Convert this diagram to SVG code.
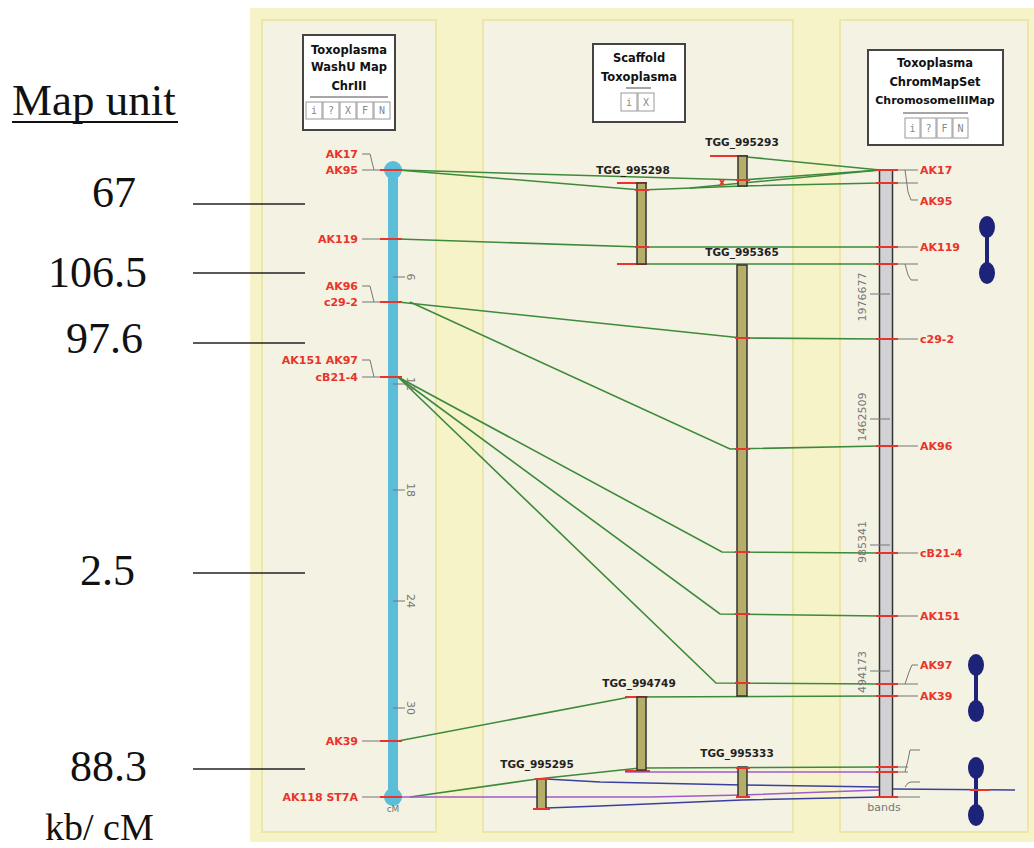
<svg xmlns="http://www.w3.org/2000/svg" width="1034" height="848" viewBox="0 0 1034 848">
<style>
.mu{font-family:"Liberation Serif",serif;font-size:44px;fill:#111}
.hd{font-family:"DejaVu Sans",sans-serif;font-weight:bold;font-size:11.5px;fill:#111;text-anchor:middle}
.rl{font-family:"DejaVu Sans",sans-serif;font-weight:bold;font-size:11px;fill:#e8342c}
.ll{font-family:"DejaVu Sans",sans-serif;font-weight:bold;font-size:11px;fill:#e8342c;text-anchor:end}
.ctg{font-family:"DejaVu Sans",sans-serif;font-weight:bold;font-size:10.5px;fill:#222;text-anchor:middle}
.gn{font-family:"DejaVu Sans",sans-serif;font-size:11px;fill:#777;text-anchor:middle}
.g{stroke:#3d8a3a;stroke-width:1.6;fill:none}
.pu{stroke:#a05cc8;stroke-width:1.6;fill:none}
.bl{stroke:#3b3fa0;stroke-width:1.6;fill:none}
.rd{stroke:#e8342c;stroke-width:2;fill:none}
.ld{stroke:#777;stroke-width:1;fill:none}
.bar{fill:#b4ae68;stroke:#333;stroke-width:1.5}
.btn{fill:#fff;stroke:#999;stroke-width:1}
.bt{font-family:"DejaVu Sans Mono",monospace;font-size:10px;fill:#888;text-anchor:middle}
.col{fill:#f4f2e2;stroke:#ece7a8;stroke-width:2}
.box{fill:#fff;stroke:#444;stroke-width:2}
.mk{stroke:#222;stroke-width:1.3}
.db{fill:#1c2378}
</style>
<rect x="0" y="0" width="1034" height="848" fill="#fff"/>
<rect x="250" y="8" width="784" height="834" fill="#f7f3c9"/>
<g id="columns">
<rect class="col" x="262" y="20" width="174" height="812"/>
<rect class="col" x="483" y="20" width="310" height="812"/>
<rect class="col" x="840" y="20" width="188" height="812"/>
</g>
<g id="mapunit">
<text class="mu" x="12" y="115" style="font-size:45px">Map unit</text>
<line x1="12" y1="122" x2="178" y2="122" stroke="#111" stroke-width="2"/>
<text class="mu" x="92" y="207">67</text>
<text class="mu" x="48" y="287">106.5</text>
<text class="mu" x="66" y="353">97.6</text>
<text class="mu" x="80" y="585">2.5</text>
<text class="mu" x="70" y="781">88.3</text>
<text class="mu" x="45" y="840" style="font-size:38px">kb/ cM</text>
<g class="mk">
<line x1="193" y1="204" x2="305" y2="204"/>
<line x1="193" y1="273" x2="305" y2="273"/>
<line x1="193" y1="343" x2="305" y2="343"/>
<line x1="193" y1="573" x2="305" y2="573"/>
<line x1="193" y1="769" x2="305" y2="769"/>
</g>
</g>
<g id="header-left">
<rect class="box" x="303" y="35" width="92" height="95"/>
<text class="hd" x="349" y="54">Toxoplasma</text>
<text class="hd" x="349" y="71">WashU Map</text>
<text class="hd" x="349" y="90">ChrIII</text>
<line x1="310" y1="97" x2="388" y2="97" stroke="#888" stroke-width="1.5"/>
<rect class="btn" x="306" y="102" width="16" height="17"/><text class="bt" x="314" y="114">i</text>
<rect class="btn" x="323" y="102" width="16" height="17"/><text class="bt" x="331" y="114">?</text>
<rect class="btn" x="340" y="102" width="16" height="17"/><text class="bt" x="348" y="114">X</text>
<rect class="btn" x="357" y="102" width="16" height="17"/><text class="bt" x="365" y="114">F</text>
<rect class="btn" x="374" y="102" width="16" height="17"/><text class="bt" x="382" y="114">N</text>
</g>
<g id="header-mid">
<rect class="box" x="593" y="44" width="92" height="78"/>
<text class="hd" x="639" y="62">Scaffold</text>
<text class="hd" x="639" y="81">Toxoplasma</text>
<line x1="626" y1="88" x2="651" y2="88" stroke="#888" stroke-width="1.5"/>
<rect class="btn" x="621" y="93" width="16" height="18"/><text class="bt" x="629" y="106">i</text>
<rect class="btn" x="638" y="93" width="16" height="18"/><text class="bt" x="646" y="106">X</text>
</g>
<g id="header-right">
<rect class="box" x="868" y="50" width="135" height="95"/>
<text class="hd" x="935" y="67">Toxoplasma</text>
<text class="hd" x="935" y="86">ChromMapSet</text>
<text class="hd" x="935" y="104" style="font-size:11px">ChromosomeIIIMap</text>
<line x1="903" y1="113" x2="968" y2="113" stroke="#888" stroke-width="1.5"/>
<rect class="btn" x="905" y="118" width="15" height="20"/><text class="bt" x="912.5" y="132">i</text>
<rect class="btn" x="921" y="118" width="15" height="20"/><text class="bt" x="928.5" y="132">?</text>
<rect class="btn" x="937" y="118" width="15" height="20"/><text class="bt" x="944.5" y="132">F</text>
<rect class="btn" x="953" y="118" width="15" height="20"/><text class="bt" x="960.5" y="132">N</text>
</g>
<g id="connectors">
<polyline class="g" points="398,170 742,180 880,170"/>
<polyline class="g" points="398,170 641,190 742,186 880,183"/>
<polyline class="g" points="747,157 880,170"/>
<polyline class="g" points="690,188 880,170"/>
<polyline class="g" points="398,239 641,247 880,247"/>
<polyline class="g" points="646,264 880,264"/>
<polyline class="g" points="398,302 742,338 880,339"/>
<polyline class="g" points="410,302 730,449 880,446"/>
<polyline class="g" points="398,377 722,552 880,553"/>
<polyline class="g" points="398,377 720,614 880,616"/>
<polyline class="g" points="398,377 716,683 880,684"/>
<polyline class="g" points="398,741 630,697 880,696"/>
<polyline class="g" points="410,797 537,779 640,768 880,767"/>
<polyline class="pu" points="625,772 880,772"/>
<polyline class="pu" points="393,797 650,797 742,795 880,790"/>
<polyline class="bl" points="546,779 600,782 742,785 880,787"/>
<polyline class="bl" points="546,808 600,806 742,800 880,797"/>
<polyline class="bl" points="893,789 1015,790"/>
<line class="rd" x1="972" y1="790" x2="990" y2="790"/>
<path class="rd" d="M720,180 l4,5 M724,180 l-4,5" stroke-width="1.2"/>
</g>
<g id="chrom-left">
<rect x="388" y="170" width="10" height="627" fill="#5bbdd8"/>
<circle cx="393" cy="170" r="9" fill="#5bbdd8"/>
<circle cx="393" cy="797" r="9" fill="#5bbdd8"/>
<g class="ld">
<line x1="393" y1="277" x2="405" y2="277"/>
<line x1="393" y1="384" x2="405" y2="384"/>
<line x1="393" y1="490" x2="405" y2="490"/>
<line x1="393" y1="601" x2="405" y2="601"/>
<line x1="393" y1="708" x2="405" y2="708"/>
<polyline points="362,154 370,154 374,170"/>
<line x1="362" y1="170" x2="382" y2="170"/>
<line x1="362" y1="239" x2="382" y2="239"/>
<polyline points="362,286 370,286 374,302"/>
<line x1="362" y1="302" x2="382" y2="302"/>
<polyline points="362,360 370,360 374,377"/>
<line x1="362" y1="377" x2="382" y2="377"/>
<line x1="362" y1="741" x2="382" y2="741"/>
<line x1="362" y1="797" x2="382" y2="797"/>
</g>
<g class="rd" stroke-width="1.5">
<line x1="380" y1="170" x2="402" y2="170"/>
<line x1="380" y1="239" x2="402" y2="239"/>
<line x1="380" y1="302" x2="402" y2="302"/>
<line x1="380" y1="377" x2="402" y2="377"/>
<line x1="380" y1="741" x2="402" y2="741"/>
<line x1="380" y1="797" x2="402" y2="797"/>
</g>
<text class="gn" transform="translate(411,277) rotate(90)" dy="4">6</text>
<text class="gn" transform="translate(411,384) rotate(90)" dy="4">12</text>
<text class="gn" transform="translate(411,490) rotate(90)" dy="4">18</text>
<text class="gn" transform="translate(411,601) rotate(90)" dy="4">24</text>
<text class="gn" transform="translate(411,708) rotate(90)" dy="4">30</text>
<text class="gn" x="393" y="812" style="font-size:9px">cM</text>
</g>
<g id="labels-left">
<text class="ll" x="358" y="158">AK17</text>
<text class="ll" x="358" y="174">AK95</text>
<text class="ll" x="358" y="243">AK119</text>
<text class="ll" x="358" y="290">AK96</text>
<text class="ll" x="358" y="306">c29-2</text>
<text class="ll" x="358" y="364">AK151 AK97</text>
<text class="ll" x="358" y="381">cB21-4</text>
<text class="ll" x="358" y="745">AK39</text>
<text class="ll" x="358" y="801">AK118 ST7A</text>
</g>
<g id="contig-995293">
<line class="rd" x1="710" y1="156" x2="748" y2="156"/>
<rect class="bar" x="738" y="156" width="9" height="30"/>
<line class="rd" x1="736" y1="180" x2="750" y2="180"/>
<text class="ctg" x="742" y="146">TGG_995293</text>
</g>
<g id="contig-995298">
<line class="rd" x1="617" y1="183" x2="647" y2="183"/>
<line class="rd" x1="617" y1="264" x2="647" y2="264"/>
<rect class="bar" x="637" y="183" width="9" height="81"/>
<line class="rd" x1="635" y1="190" x2="649" y2="190"/>
<line class="rd" x1="635" y1="247" x2="649" y2="247"/>
<text class="ctg" x="633" y="174">TGG_995298</text>
</g>
<g id="contig-995365">
<rect class="bar" x="737" y="265" width="10" height="431"/>
<g class="rd" stroke-width="1.5">
<line x1="735" y1="338" x2="750" y2="338"/>
<line x1="735" y1="449" x2="750" y2="449"/>
<line x1="735" y1="552" x2="750" y2="552"/>
<line x1="735" y1="614" x2="750" y2="614"/>
<line x1="735" y1="683" x2="750" y2="683"/>
</g>
<text class="ctg" x="742" y="256">TGG_995365</text>
</g>
<g id="contig-994749">
<line class="rd" x1="625" y1="697" x2="648" y2="697"/>
<line class="rd" x1="625" y1="771" x2="650" y2="771"/>
<rect class="bar" x="637" y="697" width="9" height="73"/>
<text class="ctg" x="639" y="687">TGG_994749</text>
</g>
<g id="contig-995333">
<rect class="bar" x="738" y="767" width="9" height="30"/>
<line class="rd" x1="736" y1="768" x2="750" y2="768"/>
<line class="rd" x1="736" y1="797" x2="750" y2="797"/>
<text class="ctg" x="737" y="757">TGG_995333</text>
</g>
<g id="contig-995295">
<rect class="bar" x="537" y="779" width="9" height="30"/>
<line class="rd" x1="535" y1="779" x2="549" y2="779"/>
<line class="rd" x1="533" y1="809" x2="550" y2="809"/>
<text class="ctg" x="537" y="768">TGG_995295</text>
</g>
<g id="chrom-right">
<rect x="879.5" y="170" width="13" height="627" fill="#d2d2d4" stroke="#333" stroke-width="1.5"/>
<g class="ld">
<line x1="870" y1="294" x2="890" y2="294"/>
<line x1="870" y1="419" x2="890" y2="419"/>
<line x1="870" y1="545" x2="890" y2="545"/>
<line x1="870" y1="671" x2="890" y2="671"/>
<line x1="893" y1="170" x2="918" y2="170"/>
<line x1="893" y1="183" x2="918" y2="183"/>
<polyline points="905,170 908,192 911,200 918,200"/>
<line x1="893" y1="247" x2="918" y2="247"/>
<line x1="893" y1="264" x2="918" y2="264"/>
<polyline points="905,264 908,275 911,280 918,280"/>
<line x1="893" y1="339" x2="918" y2="339"/>
<line x1="893" y1="446" x2="918" y2="446"/>
<line x1="893" y1="553" x2="918" y2="553"/>
<line x1="893" y1="616" x2="918" y2="616"/>
<line x1="893" y1="684" x2="918" y2="684"/>
<polyline points="905,684 909,672 912,665 918,665"/>
<line x1="893" y1="696" x2="918" y2="696"/>
<line x1="893" y1="767" x2="908" y2="767"/>
<line x1="893" y1="772" x2="908" y2="772"/>
<polyline points="905,772 908,760 910,750 920,750"/>
<polyline points="905,787 908,783 911,782 920,782"/>
<line x1="893" y1="797" x2="920" y2="797"/>
</g>
<g class="rd" stroke-width="1.5">
<line x1="876" y1="170" x2="898" y2="170"/>
<line x1="876" y1="183" x2="898" y2="183"/>
<line x1="876" y1="247" x2="898" y2="247"/>
<line x1="876" y1="264" x2="898" y2="264"/>
<line x1="876" y1="339" x2="898" y2="339"/>
<line x1="876" y1="446" x2="898" y2="446"/>
<line x1="876" y1="553" x2="898" y2="553"/>
<line x1="876" y1="616" x2="898" y2="616"/>
<line x1="876" y1="684" x2="898" y2="684"/>
<line x1="876" y1="696" x2="898" y2="696"/>
<line x1="876" y1="767" x2="898" y2="767"/>
<line x1="876" y1="772" x2="898" y2="772"/>
<line x1="876" y1="797" x2="898" y2="797"/>
</g>
<text class="gn" transform="translate(866,297) rotate(-90)">1976677</text>
<text class="gn" transform="translate(866,417) rotate(-90)">1462509</text>
<text class="gn" transform="translate(866,542) rotate(-90)">985341</text>
<text class="gn" transform="translate(866,672) rotate(-90)">494173</text>
<text class="gn" x="884" y="811">bands</text>
</g>
<g id="labels-right">
<text class="rl" x="920" y="174">AK17</text>
<text class="rl" x="920" y="205">AK95</text>
<text class="rl" x="920" y="251">AK119</text>
<text class="rl" x="920" y="343">c29-2</text>
<text class="rl" x="920" y="450">AK96</text>
<text class="rl" x="920" y="557">cB21-4</text>
<text class="rl" x="920" y="620">AK151</text>
<text class="rl" x="920" y="669">AK97</text>
<text class="rl" x="920" y="700">AK39</text>
</g>
<g id="dumbbell-1">
<rect class="db" x="985" y="227" width="4" height="46"/>
<ellipse class="db" cx="987" cy="227" rx="8" ry="11"/>
<ellipse class="db" cx="987" cy="273" rx="8" ry="11"/>
</g>
<g id="dumbbell-2">
<rect class="db" x="974" y="665" width="4" height="46"/>
<ellipse class="db" cx="976" cy="665" rx="8" ry="11"/>
<ellipse class="db" cx="976" cy="711" rx="8" ry="11"/>
</g>
<g id="dumbbell-3">
<rect class="db" x="974" y="768" width="4" height="47"/>
<ellipse class="db" cx="976" cy="768" rx="8" ry="11"/>
<ellipse class="db" cx="976" cy="815" rx="8" ry="11"/>
<line class="rd" x1="970" y1="790" x2="990" y2="790"/>
</g>
</svg>
